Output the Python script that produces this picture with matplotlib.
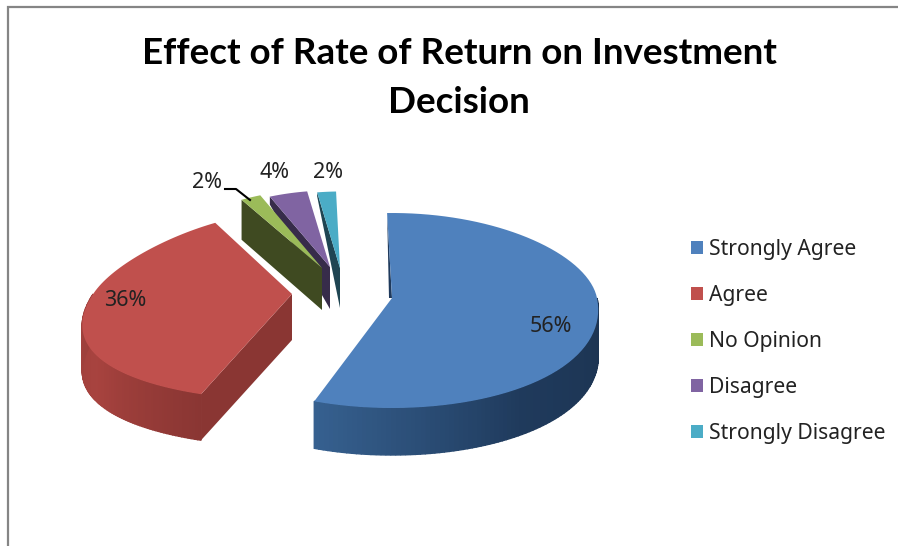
import numpy as np
import matplotlib
matplotlib.use("Agg")
import matplotlib.pyplot as plt
from matplotlib.colors import to_rgb
from matplotlib.patches import Patch, Polygon

plt.rcParams['font.family'] = ['Noto Sans', 'DejaVu Sans']

# chart data
categories = ["Strongly Agree", "Agree", "No Opinion", "Disagree", "Strongly Disagree"]
percent = [56, 36, 2, 4, 2]
title = "Effect of Rate of Return on Investment\nDecision"

# colours: top face, wall
top_colors = ["#4f81bd", "#c0504d", "#9bbb59", "#8064a2", "#4bacc6"]
wall_colors = ["#1f3a5c", "#8a3633", "#3f4a21", "#372c4a", "#1f4552"]

# exploded apex of each slice, in pixels
apex_x = [392, 292, 322, 330, 340]
apex_y = [298, 294, 268, 267, 268]
radius = [1.0, 0.97, 0.93, 0.9, 0.9]
persp = [0.001, 0.0033, 0.0024, 0.0024, 0.0024]
depth = [47, 46, 42, 42, 40]
outer_depth = [0, 46, 40, 8, 4]

# label positions
label_x = [551, 125, 207, 274, 328]
label_y = [326, 301, 182, 172, 172]

START = -1.5
RX, RY_UP, RY_DOWN = 205.0, 85.0, 110.0


def project(i, deg):
    t = np.radians(np.asarray(deg, dtype=float))
    r = radius[i]
    dy = np.where(np.cos(t) > 0, -np.cos(t) * RY_UP, -np.cos(t) * RY_DOWN) * r
    dx = np.sin(t) * RX * r * (1 + persp[i] * dy)
    return apex_x[i] + dx, apex_y[i] + dy


def mix(c1, c2, f):
    a, b = np.array(to_rgb(c1)), np.array(to_rgb(c2))
    return tuple(a + (b - a) * f)


fig = plt.figure(figsize=(8.98, 5.46), dpi=100)
ax = fig.add_axes([0, 0, 1, 1])
ax.set_xlim(0, 898)
ax.set_ylim(546, 0)
ax.axis("off")

# slice angles come from the percentages
edges = START + np.cumsum([0] + percent) * 3.6
a0 = edges[:-1]
a1 = edges[1:]

# curved side of the two big slices
for i, lo, hi, c_lo, c_mid, c_hi in [(0, 90, a1[0], "#1c3350", "#1f3a5c", "#36608f"),
                                     (1, a0[1], 270, "#8a3633", "#a8433f", "#9c3f3b")]:
    ts = np.linspace(lo, hi, 90)
    for j in range(len(ts) - 1):
        x, y = project(i, ts[j:j + 2])
        f = j / (len(ts) - 2)
        col = mix(c_lo, c_mid, f * 2) if f < 0.5 else mix(c_mid, c_hi, f * 2 - 1)
        pts = [(x[0], y[0]), (x[1], y[1]), (x[1], y[1] + depth[i]), (x[0], y[0] + depth[i])]
        ax.add_patch(Polygon(pts, closed=True, fc=col, ec=col, lw=1.0))

# flat walls, back to front
for i in [4, 3, 2]:
    x, y = project(i, a0[i])
    pts = [(x, y), (x, y + outer_depth[i]), (apex_x[i], apex_y[i] + depth[i]), (apex_x[i], apex_y[i])]
    ax.add_patch(Polygon(pts, closed=True, fc=wall_colors[i], ec="none"))
x, y = project(1, a0[1])
ax.add_patch(Polygon([(x, y), (x, y + depth[1]), (apex_x[1], apex_y[1] + depth[1]), (apex_x[1], apex_y[1])],
                     closed=True, fc=wall_colors[1], ec="none"))
x, y = project(0, a0[0])
ax.add_patch(Polygon([(x, y), (apex_x[0], apex_y[0]), (apex_x[0] - 3, apex_y[0])],
                     closed=True, fc=wall_colors[0], ec="none"))

# top faces
for i in [4, 3, 2, 1, 0]:
    ts = np.linspace(a0[i], a1[i], 80)
    x, y = project(i, ts)
    pts = np.column_stack([np.r_[apex_x[i], x], np.r_[apex_y[i], y]])
    ax.add_patch(Polygon(pts, closed=True, fc=top_colors[i], ec="none"))

# labels
for i, p in enumerate(percent):
    ax.text(label_x[i], label_y[i], f"{p}%", fontsize=15.5, color="#222222", ha="center", va="center")

# leader line of the No Opinion label
ax.plot([225, 236, 250], [189, 189, 200], color="black", lw=1.5)

ax.text(459, 78, title, fontsize=26.5, fontweight="bold", family=['Lato', 'DejaVu Sans'],
        ha="center", va="center", color="black", linespacing=1.6)

# frame of the chart area, only top and left show
ax.plot([898, 8, 8], [7, 7, 546], color="#858585", lw=1.6, solid_joinstyle="miter")

handles = [Patch(fc=c, ec="none") for c in top_colors]
ax.legend(handles, categories, loc="upper left", bbox_to_anchor=(689 / 898, 1 - 237 / 546),
          frameon=False, fontsize=15.2, labelspacing=1.18, handlelength=0.56, handleheight=0.56,
          handletextpad=0.3, borderaxespad=0, borderpad=0.1, labelcolor="#222222")

fig.savefig("out.png", dpi=100)
